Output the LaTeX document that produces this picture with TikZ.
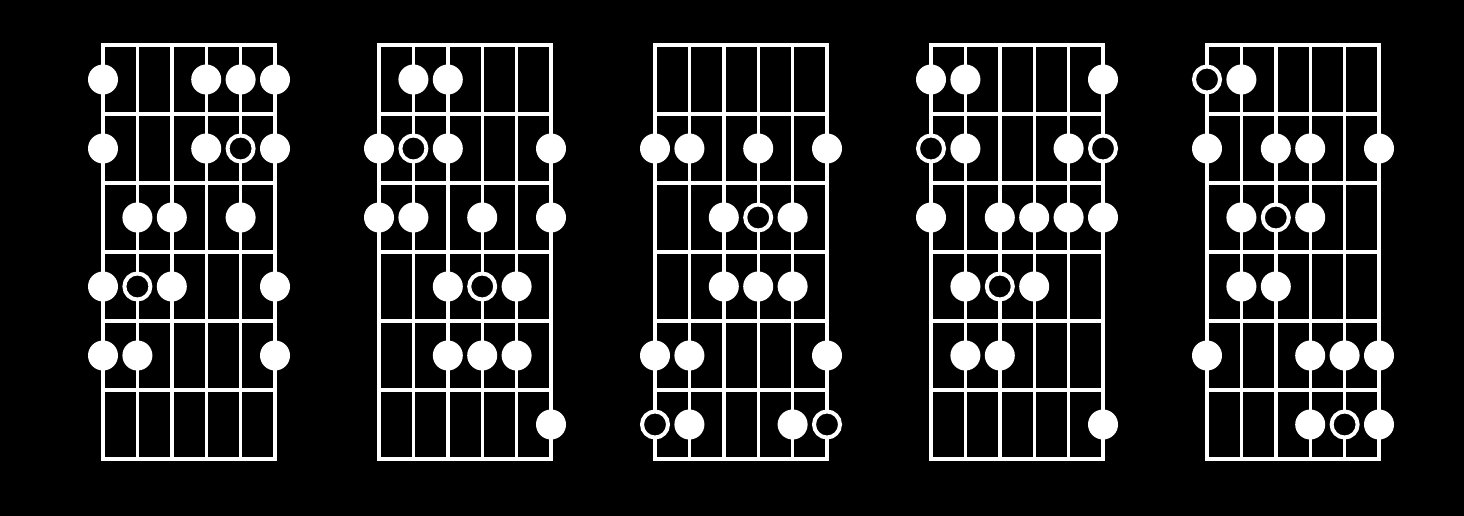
\documentclass[tikz,border=0pt]{standalone}
\usepackage{tikz}

\begin{document}
\begin{tikzpicture}[x=1pt,y=-1pt,every node/.style={circle,inner sep=0pt},
    dot/.style={fill=white,minimum size=30pt},
    ring/.style={draw=white,fill=black,line width=4pt,minimum size=26pt},
    fret/.style={draw=white,line width=3.4pt}]
    \fill[black] (0,0) rectangle (1464,516);
    \foreach \d/\full/\open in
    {0/{1/1,4/1,5/1,6/1,1/2,4/2,6/2,2/3,3/3,5/3,1/4,3/4,6/4,1/5,2/5,6/5}/{5/2,2/4},
     1/{2/1,3/1,1/2,3/2,6/2,1/3,2/3,4/3,6/3,3/4,5/4,3/5,4/5,5/5,6/6}/{2/2,4/4},
     2/{1/2,2/2,4/2,6/2,3/3,5/3,3/4,4/4,5/4,1/5,2/5,6/5,2/6,5/6}/{4/3,1/6,6/6},
     3/{1/1,2/1,6/1,2/2,5/2,1/3,3/3,4/3,5/3,6/3,2/4,4/4,2/5,3/5,6/6}/{1/2,6/2,3/4},
     4/{2/1,1/2,3/2,4/2,6/2,2/3,4/3,2/4,3/4,1/5,4/5,5/5,6/5,4/6,6/6}/{1/1,3/3,5/6}}
    {
    \begin{scope}[shift={({103+276*\d},0)}]
      % strings and frets
      \draw[fret] (0,45) rectangle (172,459);
      \foreach \s in {2,...,5}
        \draw[fret] ({34.4*(\s-1)},45) -- ({34.4*(\s-1)},459);
      \foreach \r in {1,...,5}
        \draw[fret] (0,{45+69*\r}) -- (172,{45+69*\r});
      % notes
      \foreach \s/\r in \full
        \node[dot] (n\d-\s-\r) at ({34.4*(\s-1)},{10.5+69*\r}) {};
      \foreach \s/\r in \open
        \node[ring] (r\d-\s-\r) at ({34.4*(\s-1)},{10.5+69*\r}) {};
    \end{scope}
    }
\end{tikzpicture}
\end{document}
